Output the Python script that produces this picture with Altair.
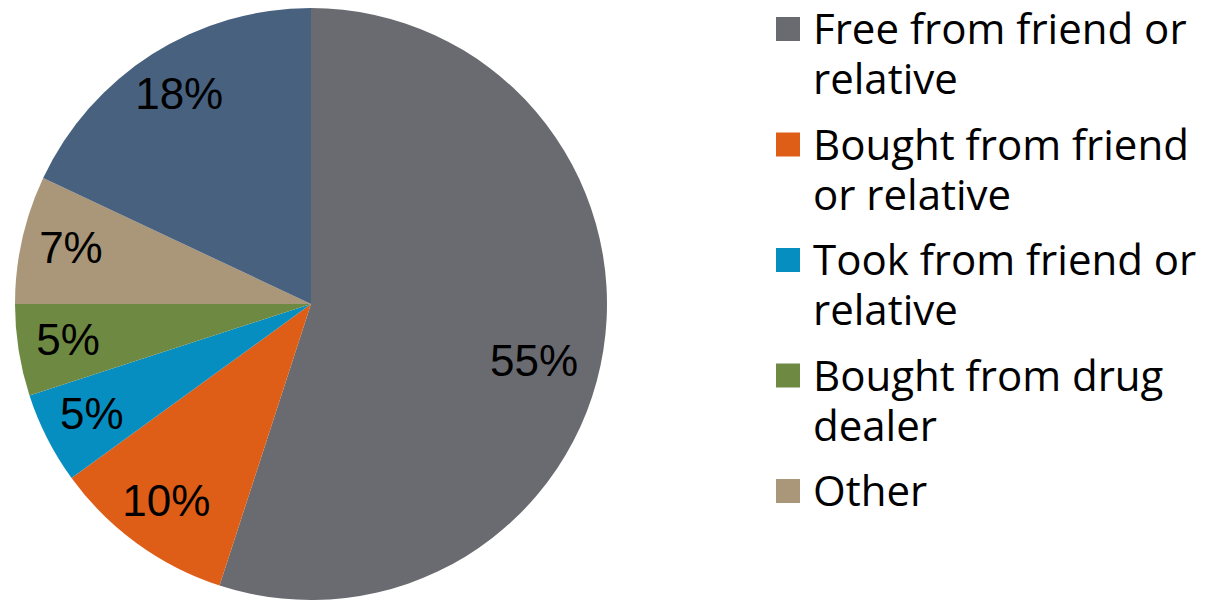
import altair as alt
import pandas as pd

categories = ["Free from friend or relative", "Bought from friend or relative",
              "Took from friend or relative", "Bought from drug dealer", "Other", "Unknown"]
values = [55, 10, 5, 5, 7, 18]
label_text = ["55%", "10%", "5%", "5%", "7%", "18%"]
colors = ["#6A6B70", "#DE5E17", "#078EC1", "#6E8942", "#AA977A", "#47617F"]

legend_categories = categories[:5]
legend_labels = ["Free from friend or\nrelative", "Bought from friend\nor relative",
                 "Took from friend or\nrelative", "Bought from drug\ndealer", "Other"]

df = pd.DataFrame({"category": categories, "value": values, "label": label_text,
                   "order": list(range(len(categories)))})
leg = pd.DataFrame({"category": legend_categories, "text": legend_labels})

color_scale = alt.Scale(domain=categories, range=colors)

base = alt.Chart(df).encode(
    theta=alt.Theta("value:Q", stack=True),
    order=alt.Order("order:Q"),
    color=alt.Color("category:N", scale=color_scale, legend=None),
)

arcs = base.mark_arc(outerRadius=296)

labels_small = base.mark_text(radius=246, font="Liberation Sans", fontSize=44).encode(
    text=alt.condition(alt.datum.value < 50, alt.Text("label:N"), alt.value("")),
    color=alt.value("#000000"),
)

labels_big = base.mark_text(radius=231, dx=-5, dy=23, font="Liberation Sans", fontSize=44).encode(
    text=alt.condition(alt.datum.value >= 50, alt.Text("label:N"), alt.value("")),
    color=alt.value("#000000"),
)

pie = alt.layer(arcs, labels_small, labels_big).properties(width=606, height=590)

ly = alt.Y("category:N",
           scale=alt.Scale(type="point", domain=legend_categories, range=[20, 482], padding=0),
           axis=None)
squares = alt.Chart(leg).mark_square(size=576, opacity=1).encode(
    x=alt.value(174), y=ly,
    color=alt.Color("category:N", scale=color_scale, legend=None),
)
texts = alt.Chart(leg).mark_text(align="left", baseline="alphabetic", dy=15, lineBreak="\n",
                                 lineHeight=50, font="Open Sans", fontSize=42,
                                 color="#000000").encode(
    x=alt.value(199), y=ly, text="text:N",
)
legend = alt.layer(squares, texts).properties(width=580, height=590)

chart = alt.hconcat(pie, legend, spacing=0).properties(padding=0).configure_view(stroke=None)

chart.save("out.html", embed_options={"renderer": "svg", "actions": False})
